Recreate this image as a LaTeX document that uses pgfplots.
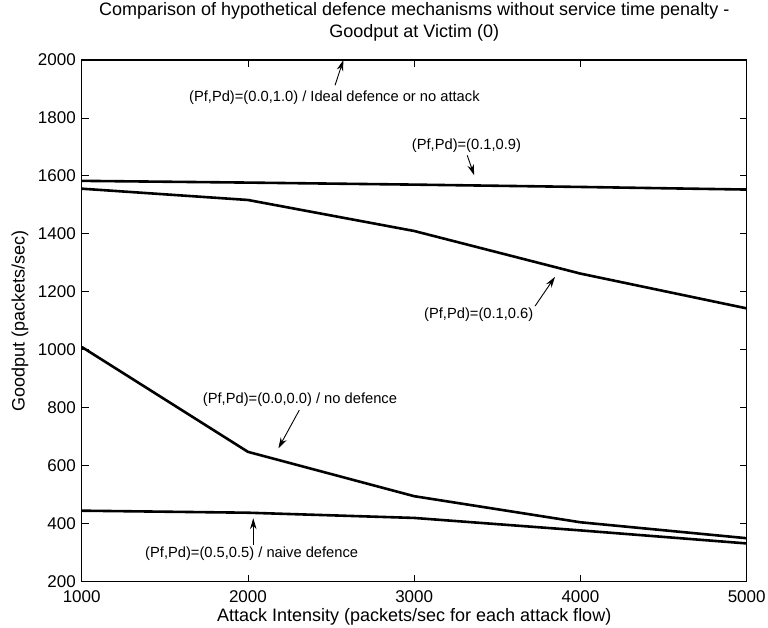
\documentclass[border=0pt]{standalone}
\usepackage{fontspec}
\setmainfont{Liberation Sans}
\usepackage{pgfplots}
\pgfplotsset{compat=1.18}
\usetikzlibrary{arrows.meta}

\tikzset{
  annot/.style={font=\fontsize{14.7}{14.7}\selectfont, anchor=west, inner sep=0pt},
  pointer/.style={line width=0.9pt, -{Stealth[length=11pt,width=6.5pt]}},
}

\begin{document}
\begin{tikzpicture}
% overall canvas, axis box placed with its lower-left corner at the origin
\path[use as bounding box] (-81.7pt,-46.3pt) rectangle (686.3pt,581.7pt);
\begin{axis}[
  at={(0,0)}, anchor=south west,
  scale only axis,
  width=665pt, height=521.7pt,
  xmin=1000, xmax=5000,
  ymin=200, ymax=2000,
  xtick={1000,2000,3000,4000,5000},
  ytick={200,400,...,2000},
  tick align=inside,
  major tick length=7pt,
  tick style={line width=0.9pt, black},
  axis line style={line width=1.4pt},
  /pgf/number format/assume math mode=true,
  /pgf/number format/1000 sep={},
  tick label style={font=\fontsize{17}{17}\selectfont},
  xticklabel style={inner sep=0pt, yshift=-8.5pt},
  yticklabel style={inner ysep=0pt, inner xsep=5.7pt},
  label style={font=\fontsize{18}{18}\selectfont},
  xlabel={Attack Intensity (packets/sec for each attack flow)},
  ylabel={Goodput (packets/sec)},
  xlabel style={at={(axis description cs:0.5,-0.0677)}, anchor=center},
  ylabel style={at={(axis description cs:-0.0928,0.5)}, anchor=center},
  title={Comparison of hypothetical defence mechanisms without service time penalty -\\Goodput at Victim (0)},
  title style={at={(axis description cs:0.5,1.0613)}, anchor=center, align=center,
    font=\fontsize{18}{22.6}\selectfont},
  clip=false,
  cycle list={black\\},
  every axis plot/.append style={line width=2.6pt},
]
% (Pf,Pd)=(0.0,1.0): ideal defence
\addplot coordinates {(1000,2000) (2000,2000) (3000,2000) (4000,2000) (5000,2000)};
% (Pf,Pd)=(0.1,0.9)
\addplot coordinates {(1000,1583) (2000,1577) (3000,1570) (4000,1562) (5000,1553)};
% (Pf,Pd)=(0.1,0.6)
\addplot coordinates {(1000,1556) (2000,1517) (3000,1410) (4000,1263) (5000,1143)};
% (Pf,Pd)=(0.0,0.0): no defence
\addplot coordinates {(1000,1010) (2000,648) (3000,495) (4000,405) (5000,350)};
% (Pf,Pd)=(0.5,0.5): naive defence
\addplot coordinates {(1000,445) (2000,438) (3000,420) (4000,377) (5000,332)};

% annotations
\node[annot] at (axis cs:1645,1871) {(Pf,Pd)=(0.0,1.0) / Ideal defence or no attack};
\draw[pointer] (axis cs:2524,1913) -- (axis cs:2574,2000);

\node[annot] at (axis cs:2985,1706) {(Pf,Pd)=(0.1,0.9)};
\draw[pointer] (axis cs:3319,1671) -- (axis cs:3361,1602);

\node[annot] at (axis cs:3059,1120) {(Pf,Pd)=(0.1,0.6)};
\draw[pointer] (axis cs:3727,1151) -- (axis cs:3847,1252);

\node[annot] at (axis cs:1728,827) {(Pf,Pd)=(0.0,0.0) / no defence};
\draw[pointer] (axis cs:2309,792) -- (axis cs:2183,660);

\node[annot] at (axis cs:1381,295) {(Pf,Pd)=(0.5,0.5) / naive defence};
\draw[pointer] (axis cs:2032,327) -- (axis cs:2032,419);
\end{axis}
\end{tikzpicture}
\end{document}
